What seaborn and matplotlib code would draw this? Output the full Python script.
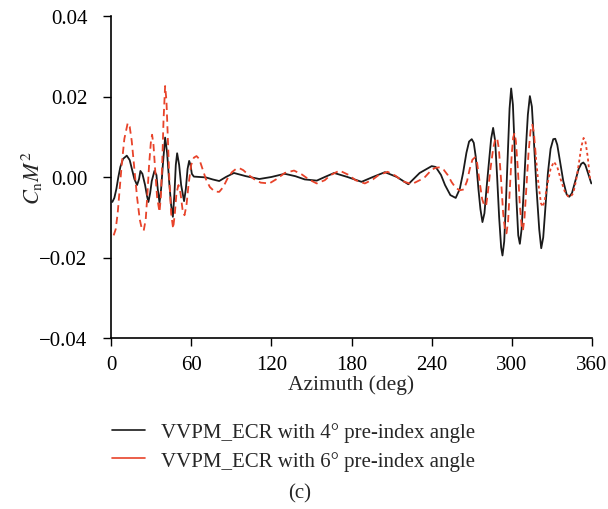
import matplotlib
matplotlib.use("Agg")
import matplotlib.pyplot as plt
import seaborn as sns
import pandas as pd
from matplotlib.ticker import FuncFormatter
from matplotlib.lines import Line2D

# ---- data ----
az_4deg = [1, 2.5, 4, 5.5, 7, 9, 11.8, 14, 16, 17.5, 19.5, 21, 22, 23.5, 25.5, 27, 28,
           29.3, 30.5, 32.5, 34, 35, 36.3, 37.5, 38.8, 40.5, 42, 43.5, 45, 46.3, 47.5,
           48.5, 49.5, 51, 52.5, 54.7, 56, 57.3, 58.5, 59.5, 60.5, 62, 66, 71, 76, 81,
           86, 92, 101, 111, 120, 130, 138, 145, 154, 160, 167, 177, 187.5, 196, 205,
           214, 222.5, 231, 240, 243, 247, 250, 254, 258, 261, 263.5, 266, 268, 270,
           271.5, 273, 275, 276.5, 278, 279.5, 281, 283, 284.5, 286, 287.5, 289, 290.5,
           292, 293, 294.3, 295.5, 297, 298.3, 299.5, 300.8, 302, 303.5, 304.8, 306,
           307.3, 308.8, 310.5, 312, 313.5, 315, 316.5, 318.5, 320.5, 322, 323.5, 325,
           327, 329, 331, 332.5, 334, 336, 338.5, 341, 343, 345, 347.5, 350, 352,
           353.5, 355, 357, 359.5]
cn_4deg = [-0.0062, -0.0052, -0.003, 0.0, 0.0025, 0.0045, 0.0053, 0.0042, 0.0015,
           -0.0005, -0.002, -0.0005, 0.0015, 0.0008, -0.002, -0.0048, -0.0062, -0.004,
           -0.001, 0.0015, 0.0005, -0.003, -0.0064, -0.003, 0.003, 0.0098, 0.006,
           -0.001, -0.007, -0.0099, -0.004, 0.003, 0.0059, 0.003, -0.002, -0.006,
           -0.003, 0.002, 0.004, 0.003, 0.0008, 0.0001, 0.0, -0.0001, -0.0006, -0.001,
           0.0, 0.001, 0.0002, -0.0005, 0.0, 0.0008, 0.0002, -0.0006, -0.0009, 0.0,
           0.001, 0.0, -0.0012, 0.0, 0.0012, 0.0, -0.0018, 0.001, 0.0027, 0.0025,
           0.0005, -0.002, -0.0045, -0.0052, -0.003, 0.001, 0.006, 0.0088, 0.0094,
           0.0085, 0.005, -0.003, -0.008, -0.0112, -0.009, -0.003, 0.004, 0.0095,
           0.0122, 0.009, 0.0, -0.01, -0.0175, -0.0195, -0.016, -0.007, 0.006, 0.017,
           0.022, 0.018, 0.008, -0.006, -0.0145, -0.0166, -0.013, -0.004, 0.007,
           0.0155, 0.0201, 0.0175, 0.009, -0.003, -0.013, -0.0177, -0.015, -0.008,
           0.001, 0.007, 0.0094, 0.0095, 0.008, 0.004, -0.001, -0.0043, -0.0049,
           -0.004, -0.001, 0.002, 0.0033, 0.0036, 0.003, 0.001, -0.0016]

az_6deg = [2, 3.5, 5, 6.5, 8, 10, 12.5, 14, 15.5, 17.5, 19.5, 21.5, 23, 24.5, 26, 27.3,
           28.5, 29.8, 30.75, 31.8, 33, 34.5, 36.3, 37.3, 38.3, 39.3, 40.5, 41.5, 42.5,
           43.7, 45, 46.5, 47.8, 49, 50.5, 52, 53.5, 55, 56.5, 58, 60, 62, 64, 66,
           68.5, 71, 74, 77.5, 81, 84, 87, 90.5, 93.5, 96, 99, 103, 107, 112, 118.5,
           124, 130, 137, 143, 148, 154, 160, 164, 171, 178, 183, 190, 196, 200, 207,
           213, 218, 225, 231, 235, 240, 243, 246, 249, 252, 255, 258, 261, 264, 266.5,
           268.5, 270.5, 272.5, 274, 275.8, 277.8, 279.5, 280.8, 282, 284, 286, 287.5,
           289, 290.3, 292, 293.5, 295, 296, 297.2, 298.5, 300, 301, 302, 303, 304.5,
           306, 307.3, 308.3, 309.5, 311, 312.5, 314, 315.3, 316.5, 318, 320, 321.8,
           323, 324.5, 326.5, 329, 331.5, 334, 336.5, 339.5, 342, 344, 346, 348, 350,
           352, 353.7, 355, 356.8, 358.7]
cn_6deg = [-0.0145, -0.013, -0.009, -0.003, 0.003, 0.0095, 0.0134, 0.0125, 0.009,
           0.002, -0.005, -0.0105, -0.0128, -0.0133, -0.0105, -0.004, 0.003, 0.0085,
           0.0105, 0.008, 0.002, -0.005, -0.0087, -0.005, 0.003, 0.014, 0.0226, 0.019,
           0.01, -0.001, -0.009, -0.0128, -0.009, -0.004, -0.002, -0.004, -0.008,
           -0.0095, -0.007, -0.002, 0.003, 0.0048, 0.0052, 0.0045, 0.002, -0.0005,
           -0.0025, -0.0036, -0.0037, -0.0025, -0.0005, 0.0012, 0.002, 0.0022, 0.0017,
           0.0005, -0.0005, -0.0014, -0.0016, -0.0005, 0.001, 0.0016, 0.0006, -0.0006,
           -0.0016, -0.0008, 0.0004, 0.0016, 0.0005, -0.0008, -0.0016, -0.0006, 0.0004,
           0.0013, 0.0003, -0.001, -0.0018, -0.0008, 0.0, 0.0018, 0.0023, 0.0024,
           0.0018, 0.0005, -0.0013, -0.0027, -0.0033, -0.0031, -0.001, 0.002, 0.0043,
           0.0049, 0.0035, -0.001, -0.0055, -0.0072, -0.007, -0.004, 0.002, 0.007,
           0.0093, 0.0097, 0.007, -0.001, -0.009, -0.0135, -0.014, -0.011, -0.003,
           0.006, 0.0098, 0.0109, 0.009, 0.002, -0.007, -0.012, -0.0133, -0.01, -0.002,
           0.006, 0.0115, 0.013, 0.011, 0.005, -0.002, -0.0065, -0.0074, -0.006,
           -0.002, 0.002, 0.0038, 0.0025, -0.0005, -0.0035, -0.0048, -0.0049, -0.004,
           -0.001, 0.003, 0.0075, 0.0097, 0.009, 0.005, -0.001]

labels = ["VVPM_ECR with 4° pre-index angle", "VVPM_ECR with 6° pre-index angle"]
x_ticks = [0, 60, 120, 180, 240, 300, 360]
y_ticks = [-0.04, -0.02, 0.00, 0.02, 0.04]

# ---- style ----
sns.set_style("ticks")
plt.rcParams["font.family"] = ["Liberation Serif", "DejaVu Serif"]
plt.rcParams["mathtext.fontset"] = "stix"

black = "#1a1a1a"
red = "#E8432A"

W, H = 608, 510
fig = plt.figure(figsize=(W / 100, H / 100), dpi=100)
ax_l, ax_r, ax_t, ax_b = 111, 592, 17, 339
ax = fig.add_axes([ax_l / W, 1 - ax_b / H, (ax_r - ax_l) / W, (ax_b - ax_t) / H])

df4 = pd.DataFrame({"az": az_4deg, "cn": cn_4deg})
df6 = pd.DataFrame({"az": az_6deg, "cn": cn_6deg})
split = 318

sns.lineplot(data=df4, x="az", y="cn", ax=ax, color=black, lw=1.3, sort=False)
sns.lineplot(data=df6[df6.az <= split], x="az", y="cn", ax=ax, color=red, lw=1.3,
             sort=False, linestyle=(0, (4, 2.5)))
sns.lineplot(data=df6[df6.az >= split], x="az", y="cn", ax=ax, color=red, lw=1.3,
             sort=False, linestyle=(0, (1.6, 1.6)))

ax.set_xlim(0, 360)
ax.set_ylim(-0.04, 0.04)
ax.set_xticks(x_ticks)
ax.set_yticks(y_ticks)
ax.yaxis.set_major_formatter(FuncFormatter(lambda v, p: f"{v:.2f}".replace("-", "\u2212")))
ax.tick_params(axis="both", labelsize=15, direction="out", length=6, width=1,
               colors="black")
ax.tick_params(axis="x", pad=6)
ax.tick_params(axis="y", pad=11)
for s in ["top", "right"]:
    ax.spines[s].set_visible(False)
for s in ["left", "bottom"]:
    ax.spines[s].set_color("black")
    ax.spines[s].set_linewidth(1.2)

ax.set_xlabel("Azimuth (deg)", fontsize=15.5)
ax.set_ylabel(r"$C_{\mathrm{n}}M^2$", fontsize=16)
ax.xaxis.set_label_coords(0.5, (ax_b - 375) / (ax_b - ax_t))
ax.yaxis.set_label_coords((45 - ax_l) / (ax_r - ax_l), 0.5)

handles = [Line2D([0], [0], color=black, lw=1.2),
           Line2D([0], [0], color=red, lw=1.2)]
fig.legend(handles, labels, loc="upper left",
           bbox_to_anchor=(112 / W, 1 - 423 / H), frameon=False, borderpad=0,
           borderaxespad=0, fontsize=15, handlelength=1.6, handletextpad=0.75,
           labelspacing=0.42)

fig.text(300 / W, 1 - 494 / H, "(c)", ha="center", va="center", fontsize=15)

fig.savefig("out.png", dpi=100)
